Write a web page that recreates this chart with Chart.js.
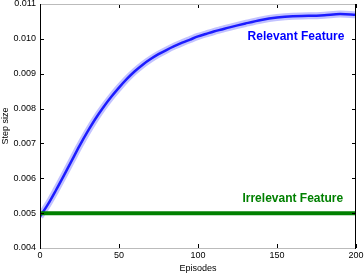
<!DOCTYPE html>
<html>
<head>
<meta charset="utf-8">
<script src="https://cdn.jsdelivr.net/npm/chart.js@4"></script>
<style>
  html, body { margin: 0; padding: 0; background: #fff; }
  #wrap { width: 364px; height: 274px; }
</style>
</head>
<body>
<div id="wrap"><canvas id="chart"></canvas></div>
<script>
const episodes = [0, 5, 10, 15, 20, 25, 30, 35, 40, 45, 50, 55, 60, 65, 70, 75, 80, 85, 90, 95, 100, 105, 110, 115, 120, 130, 140, 150, 160, 170, 180, 190, 200];
const relevant = [0.0049, 0.00525, 0.00565, 0.00607, 0.0065, 0.00693, 0.00733, 0.0077, 0.00803, 0.00833, 0.0086, 0.00885, 0.00907, 0.00926, 0.00942, 0.00956, 0.00968, 0.00979, 0.00989, 0.00998, 0.01007, 0.01014, 0.01021, 0.01027, 0.01033, 0.01044, 0.01054, 0.01061, 0.01065, 0.01066, 0.01068, 0.01071, 0.01069];
const irrelevantEpisodes = [0, 200];
const irrelevant = [0.005, 0.005];
const xTicks = [0, 50, 100, 150, 200];
const yTicks = [0.004, 0.005, 0.006, 0.007, 0.008, 0.009, 0.010, 0.011];

const font = { family: 'Liberation Sans', size: 9 };
const pts = (xs, ys) => xs.map((x, i) => ({ x: x, y: ys[i] }));

// matplotlib look: inward ticks on all four sides, frame, inline labels
const frame = {
  id: 'frame',
  afterDatasetsDraw(chart) {
    const { ctx, chartArea: a, scales: { x, y } } = chart;
    ctx.save();
    ctx.lineWidth = 1;
    ctx.strokeStyle = '#000';
    xTicks.forEach(v => {
      const px = Math.round(x.getPixelForValue(v)) + 0.5;
      ctx.beginPath();
      ctx.moveTo(px, a.bottom); ctx.lineTo(px, a.bottom - 4);
      ctx.moveTo(px, a.top); ctx.lineTo(px, a.top + 4);
      ctx.stroke();
    });
    yTicks.forEach(v => {
      const py = Math.round(y.getPixelForValue(v)) + 0.5;
      ctx.beginPath();
      ctx.moveTo(a.left, py); ctx.lineTo(a.left + 4, py);
      ctx.moveTo(a.right, py); ctx.lineTo(a.right - 4, py);
      ctx.stroke();
    });
    ctx.strokeStyle = '#bbb';
    ctx.beginPath();
    ctx.moveTo(a.left, a.top + 0.5); ctx.lineTo(a.right, a.top + 0.5);
    ctx.moveTo(a.left, a.bottom + 0.5); ctx.lineTo(a.right, a.bottom + 0.5);
    ctx.stroke();
    ctx.strokeStyle = '#000';
    ctx.beginPath();
    ctx.moveTo(a.left + 0.5, a.top); ctx.lineTo(a.left + 0.5, a.bottom + 1);
    ctx.moveTo(a.right - 0.5, a.top); ctx.lineTo(a.right - 0.5, a.bottom + 1);
    ctx.stroke();

    ctx.font = 'bold 12px "Liberation Sans"';
    ctx.textAlign = 'center';
    ctx.textBaseline = 'middle';
    ctx.fillStyle = '#0000ff';
    ctx.fillText('Relevant Feature', x.getPixelForValue(162), y.getPixelForValue(0.01005));
    ctx.fillStyle = '#008000';
    ctx.fillText('Irrelevant Feature', x.getPixelForValue(160), y.getPixelForValue(0.00541));
    ctx.restore();
  }
};

new Chart(document.getElementById('chart'), {
  type: 'line',
  data: {
    datasets: [{
      label: 'Irrelevant Feature',
      data: pts(irrelevantEpisodes, irrelevant),
      borderColor: '#008000',
      borderWidth: 4,
      pointRadius: 0
    },
    {
      label: 'band',
      data: pts(episodes, relevant),
      borderColor: 'rgba(80,80,255,0.35)',
      borderWidth: 7,
      pointRadius: 0,
      cubicInterpolationMode: 'monotone'
    },
    {
      label: 'Relevant Feature',
      data: pts(episodes, relevant),
      borderColor: '#0000ff',
      borderWidth: 2.5,
      pointRadius: 0,
      cubicInterpolationMode: 'monotone'
    }]
  },
  options: {
    responsive: true,
    maintainAspectRatio: false,
    animation: false,
    layout: { padding: { top: 4, right: 8, left: 0, bottom: 0 } },
    plugins: {
      legend: { display: false },
      tooltip: { enabled: false }
    },
    scales: {
      x: {
        type: 'linear',
        min: 0,
        max: 200,
        afterBuildTicks: s => { s.ticks = xTicks.map(v => ({ value: v })); },
        grid: { display: false, drawTicks: false, tickLength: 0 },
        border: { display: false },
        ticks: { color: '#000', font: font, padding: 2, maxRotation: 0 },
        title: { display: true, text: 'Episodes', color: '#000', font: font, padding: { top: 0, bottom: 0 } },
        afterFit: s => { s.height = 26; s.paddingLeft = 0; s.paddingRight = 0; }
      },
      y: {
        min: 0.004,
        max: 0.011,
        afterBuildTicks: s => { s.ticks = yTicks.map(v => ({ value: v })); },
        grid: { display: false, drawTicks: false, tickLength: 0 },
        border: { display: false },
        ticks: { color: '#000', font: font, padding: 4, callback: v => v.toFixed(3) },
        title: { display: true, text: 'Step size', color: '#000', font: font, padding: { top: 0, bottom: 0 } },
        afterFit: s => { s.width = 40; s.paddingTop = 0; s.paddingBottom = 0; }
      }
    }
  },
  plugins: [frame]
});
</script>
</body>
</html>
